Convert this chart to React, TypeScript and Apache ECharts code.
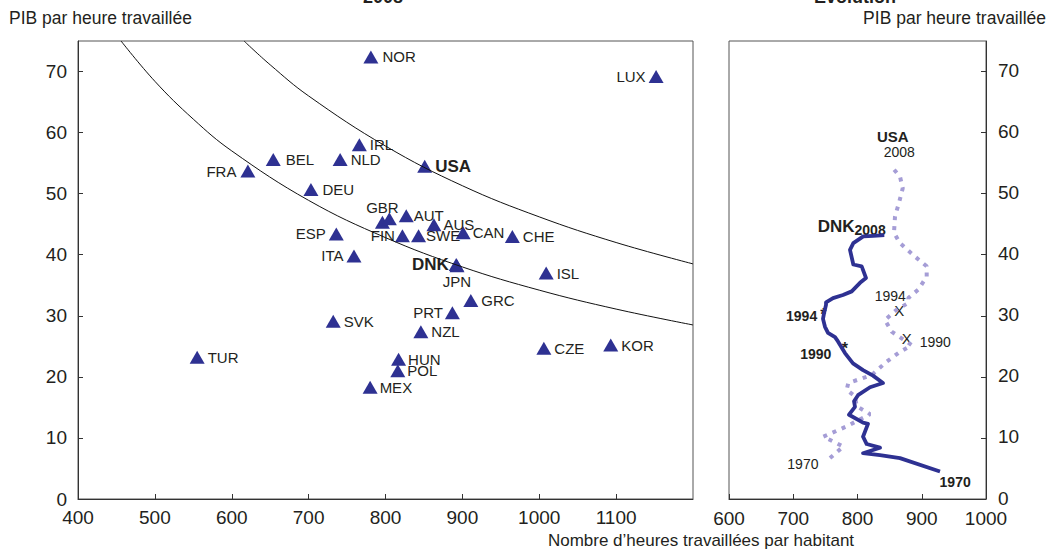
import React, { useEffect, useRef } from "react";
import * as echarts from "echarts";

// ---- Left panel (2008): hours worked per inhabitant vs GDP per hour worked ----
const countries = ["NOR", "LUX", "IRL", "BEL", "NLD", "USA", "FRA", "DEU", "GBR", "", "AUT", "AUS", "CAN", "CHE", "ESP", "FIN", "SWE", "ITA", "DNK", "JPN", "ISL", "GRC", "PRT", "SVK", "NZL", "TUR", "HUN", "POL", "MEX", "CZE", "KOR"];
const hours2008 = [781, 1152, 766, 654, 741, 851, 621, 703, 796, 805, 827, 863, 901, 965, 736, 822, 843, 759, 892, 893, 1009, 911, 887, 732, 846, 555, 817, 816, 780, 1006, 1093];
const gdpPerHour2008 = [72.4, 69.2, 58.0, 55.6, 55.6, 54.5, 53.7, 50.7, 45.3, 45.9, 46.4, 44.9, 43.6, 43.0, 43.4, 43.1, 43.1, 39.8, 38.4, 38.2, 37.0, 32.5, 30.5, 29.1, 27.4, 23.2, 22.9, 21.0, 18.3, 24.7, 25.2];

// iso-GDP-per-capita curves
const lowerCurveX = [456, 500, 550, 600, 700, 800, 900, 1000, 1100, 1200];
const lowerCurveY = [75, 68.4, 62.2, 57.0, 48.9, 42.8, 38.0, 34.2, 31.1, 28.5];
const upperCurveX = [616, 650, 700, 800, 900, 1000, 1100, 1200];
const upperCurveY = [75, 71.1, 66.0, 57.8, 51.3, 46.2, 42.0, 38.5];

// ---- Right panel (evolution 1970-2008) ----
const dnkHours = [928.4, 866.1, 835.0, 808.6, 835.0, 814.3, 808.6, 816.3, 808.6, 786.8, 796.1, 794.6, 800.8, 819.5, 839.7, 824.1, 808.6, 793.0, 780.5, 769.6, 765.0, 754.1, 749.4, 746.3, 747.9, 751.0, 751.0, 761.9, 777.4, 791.0, 803.9, 813.2, 806.5, 793.5, 788.3, 793.5, 809.0, 824.6, 841.7];
const dnkGdp = [4.5, 6.7, 7.2, 7.5, 8.4, 9.0, 10.2, 12.3, 12.5, 13.8, 15.1, 16.0, 17.0, 18.3, 19.0, 20.2, 21.1, 22.2, 23.9, 25.8, 26.5, 27.2, 28.2, 29.5, 30.4, 31.8, 32.2, 32.9, 33.4, 34.0, 35.4, 36.2, 38.1, 38.4, 40.8, 41.9, 43.0, 43.1, 43.2];
const usaHours = [757.2, 777.9, 746.8, 783.2, 819.5, 798.8, 796.1, 783.2, 785.7, 822.1, 845.5, 866.1, 884.4, 853.2, 842.7, 861.0, 879.1, 879.1, 894.6, 907.7, 907.7, 889.5, 866.1, 856.8, 858.4, 865.1, 870.4, 866.1, 854.8];
const usaGdp = [6.7, 8.6, 10.2, 11.9, 13.9, 15.2, 16.8, 17.9, 19.0, 20.3, 22.5, 24.1, 25.2, 27.4, 29.3, 31.0, 32.1, 32.9, 34.3, 36.4, 38.1, 39.7, 41.9, 43.6, 46.3, 48.7, 50.9, 52.8, 54.2];

const xTicksLeft = [400, 1200, 100];
const xTicksRight = [600, 1000, 100];
const yTicks = [0, 75, 10];

const NAVY = "#2e3192";
const LILAC = "#a59dd6";
const TEXT = "#231f20";
const FONT = "'Liberation Sans', Arial, sans-serif";

// label placement (style only)
const placement: Record<string, any> = {
  NOR: { position: "right", distance: 4 },
  LUX: { position: "left", distance: 3 },
  IRL: { position: "right", distance: 3 },
  BEL: { position: "right", distance: 5, offset: [0, -2] },
  NLD: { position: "right", distance: 3 },
  USA: { position: "right", distance: 3, fontWeight: "bold", fontSize: 17 },
  FRA: { position: "left", distance: 4 },
  DEU: { position: "right", distance: 4 },
  GBR: { position: "top", distance: 1, offset: [0, 0] },
  "": { show: false },
  AUT: { position: "right", distance: 0, offset: [-3, -11] },
  AUS: { position: "right", distance: 2, offset: [0, -7] },
  CAN: { position: "right", distance: 2, offset: [0, 2] },
  CHE: { position: "right", distance: 3 },
  ESP: { position: "left", distance: 3 },
  FIN: { position: "left", distance: 0, offset: [4, 4] },
  SWE: { position: "right", distance: 0, offset: [-3, 7] },
  ITA: { position: "left", distance: 3 },
  DNK: { position: "left", distance: 0, offset: [10, -4], fontWeight: "bold", fontSize: 17 },
  JPN: { position: "bottom", distance: 2, offset: [-8, 2] },
  ISL: { position: "right", distance: 3 },
  GRC: { position: "right", distance: 3 },
  PRT: { position: "left", distance: 2 },
  SVK: { position: "right", distance: 3 },
  NZL: { position: "right", distance: 3 },
  TUR: { position: "right", distance: 3 },
  HUN: { position: "right", distance: 2, offset: [0, -3] },
  POL: { position: "right", distance: 2, offset: [0, 3] },
  MEX: { position: "right", distance: 2 },
  CZE: { position: "right", distance: 3, offset: [0, 2] },
  KOR: { position: "right", distance: 3 },
};

// right-panel annotations: [text key, hours, gdp]
const annotations: [string, number, number][] = [
  ["USA", 855, 59.3],
  ["2008", 865, 56.8],
  ["DNK", 791, 44.6],
  ["1994b", 713, 30.0],
  ["1990b", 735, 23.8],
  ["1970b", 952, 2.8],
  ["1970", 715, 5.7],
  ["1994", 851, 33.3],
  ["1990", 921, 25.7],
  ["X", 865, 30.8],
  ["X", 876.5, 26.3],
  ["*", 746.8, 30.2],
  ["*", 780.5, 24.7],
];

export default function App() {
  const ref = useRef<HTMLDivElement>(null);
  useEffect(() => {
    if (!ref.current) return;
    const chart = echarts.init(ref.current, null, { renderer: "svg" });

    const axisCommon = {
      axisLine: { show: true, onZero: false, lineStyle: { color: "#333", width: 1 } },
      axisTick: { show: true, inside: true, length: 5, lineStyle: { color: "#333" } },
      splitLine: { show: false },
    };
    const tickLabel = { color: TEXT, fontSize: 19, fontFamily: FONT, formatter: (v: number) => String(v) };

    const scatterData = countries.map((c, i) => {
      const p = placement[c] || { position: "right" };
      return {
        name: c,
        value: [hours2008[i], gdpPerHour2008[i]],
        label: {
          show: p.show !== false,
          position: p.position,
          distance: p.distance ?? 3,
          offset: p.offset || [0, 0],
          fontWeight: p.fontWeight || "normal",
          fontSize: p.fontSize || 15,
          lineHeight: p.fontSize ? p.fontSize : 14,
        },
      };
    });

    const annLabel = (key: string) => {
      switch (key) {
        case "USA": return { formatter: "USA", fontWeight: "bold", fontSize: 15 };
        case "2008": return { formatter: "2008", fontSize: 14 };
        case "DNK": return { formatter: "{a|DNK}{b|2008}", rich: { a: { fontWeight: "bold", fontSize: 17, fontFamily: FONT, color: TEXT }, b: { fontWeight: "bold", fontSize: 14, fontFamily: FONT, color: TEXT, padding: [6, 0, 0, 0] } } };
        case "1994b": return { formatter: "1994", fontWeight: "bold", fontSize: 14 };
        case "1990b": return { formatter: "1990", fontWeight: "bold", fontSize: 14 };
        case "1970b": return { formatter: "1970", fontWeight: "bold", fontSize: 14 };
        case "X": return { formatter: "X", fontSize: 15 };
        case "*": return { formatter: "*", fontSize: 16, fontWeight: "bold" };
        default: return { formatter: key, fontSize: 14 };
      }
    };

    chart.setOption({
      animation: false,
      backgroundColor: "#fff",
      textStyle: { fontFamily: FONT },
      grid: [
        { left: 78, top: 41, width: 615, height: 458, show: true, borderColor: "#555", borderWidth: 1, backgroundColor: "transparent" },
        { left: 729, top: 41, width: 257, height: 458, show: true, borderColor: "#555", borderWidth: 1, backgroundColor: "transparent" },
      ],
      xAxis: [
        { type: "value", gridIndex: 0, min: xTicksLeft[0], max: xTicksLeft[1], interval: xTicksLeft[2], ...axisCommon, axisLabel: { ...tickLabel, margin: 9, showMaxLabel: false } },
        { type: "value", gridIndex: 1, min: xTicksRight[0], max: xTicksRight[1], interval: xTicksRight[2], ...axisCommon, axisLabel: { ...tickLabel, margin: 10 } },
      ],
      yAxis: [
        { type: "value", gridIndex: 0, min: yTicks[0], max: yTicks[1], interval: yTicks[2], ...axisCommon, axisLabel: { ...tickLabel, margin: 11, showMaxLabel: false } },
        { type: "value", gridIndex: 1, position: "right", min: yTicks[0], max: yTicks[1], interval: yTicks[2], ...axisCommon, axisLabel: { ...tickLabel, margin: 12, showMaxLabel: false, lineHeight: 16, verticalAlign: "bottom", padding: [0, 0, -7, 0] } },
      ],
      graphic: [
        { type: "text", left: 9, top: 9, style: { text: "PIB par heure travaillée", fontSize: 17.5, fontFamily: FONT, fill: TEXT } },
        { type: "text", right: 7, top: 9, style: { text: "PIB par heure travaillée", fontSize: 17.5, fontFamily: FONT, fill: TEXT } },
        { type: "text", x: 383, y: 6, style: { text: "2008", fontSize: 18, fontWeight: "bold", fontFamily: FONT, fill: TEXT, align: "center", verticalAlign: "bottom" } },
        { type: "text", x: 855, y: 6, style: { text: "Évolution", fontSize: 18, fontWeight: "bold", fontFamily: FONT, fill: TEXT, align: "center", verticalAlign: "bottom" } },
        { type: "text", x: 701, y: 540, style: { text: "Nombre d’heures travaillées par habitant", fontSize: 17, fontFamily: FONT, fill: TEXT, align: "center", verticalAlign: "middle" } },
      ],
      series: [
        {
          type: "line", xAxisIndex: 0, yAxisIndex: 0, smooth: 0.4, showSymbol: false, silent: true, clip: true,
          lineStyle: { color: "#111", width: 1 },
          data: lowerCurveX.map((x, i) => [x, lowerCurveY[i]]),
        },
        {
          type: "line", xAxisIndex: 0, yAxisIndex: 0, smooth: 0.4, showSymbol: false, silent: true, clip: true,
          lineStyle: { color: "#111", width: 1 },
          data: upperCurveX.map((x, i) => [x, upperCurveY[i]]),
        },
        {
          type: "scatter", xAxisIndex: 0, yAxisIndex: 0, symbol: "triangle", symbolSize: [15, 13],
          itemStyle: { color: NAVY, opacity: 1 },
          label: { show: true, formatter: "{b}", color: TEXT, fontFamily: FONT, fontSize: 15 },
          labelLayout: { hideOverlap: false },
          data: scatterData,
        },
        {
          type: "line", xAxisIndex: 1, yAxisIndex: 1, showSymbol: false, silent: true,
          lineStyle: { color: LILAC, width: 4, type: [4, 6], cap: "butt" },
          data: usaHours.map((x, i) => [x, usaGdp[i]]),
        },
        {
          type: "line", xAxisIndex: 1, yAxisIndex: 1, showSymbol: false, silent: true,
          lineStyle: { color: NAVY, width: 3.8, join: "round" },
          data: dnkHours.map((x, i) => [x, dnkGdp[i]]),
        },
        {
          type: "scatter", xAxisIndex: 1, yAxisIndex: 1, symbolSize: 0, silent: true,
          itemStyle: { opacity: 1 },
          data: annotations.map(([k, x, y]) => ({
            value: [x, y],
            label: { show: true, position: "inside", color: TEXT, fontFamily: FONT, ...annLabel(k) },
          })),
        },
      ],
    });
    return () => chart.dispose();
  }, []);

  return <div ref={ref} style={{ position: "absolute", left: 0, top: 0, width: 1053, height: 550 }} />;
}
